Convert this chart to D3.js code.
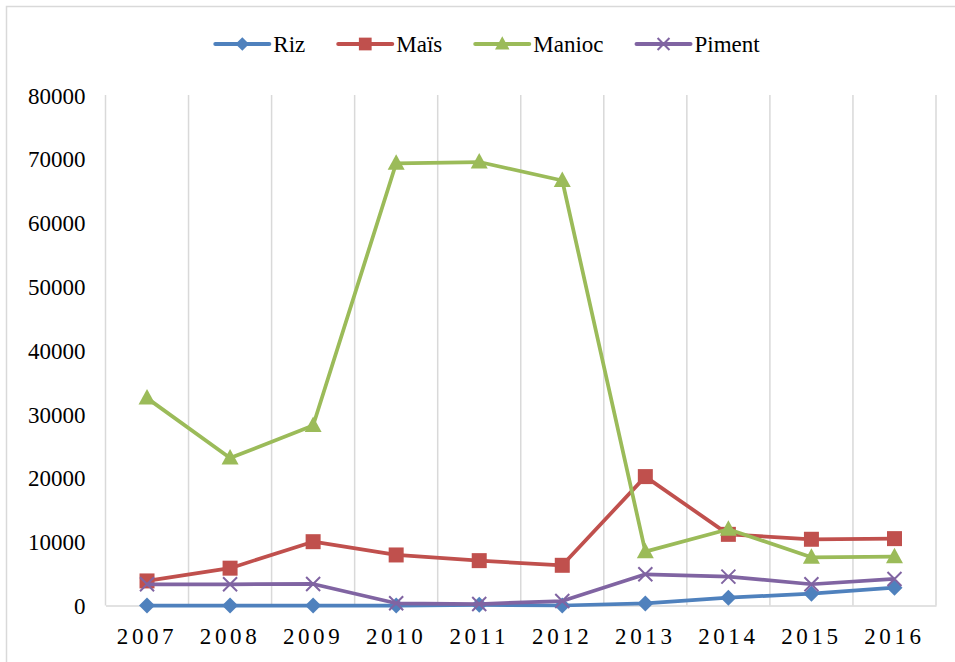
<!DOCTYPE html>
<html>
<head>
<meta charset="utf-8">
<script src="https://cdn.jsdelivr.net/npm/d3@7"></script>
<style>
  body { margin: 0; background: #fff; }
  svg { display: block; }
  svg text { font-family: "Times New Roman", "Liberation Serif", "DejaVu Serif", serif; }
</style>
</head>
<body>
<div id="chart"></div>
<script>
// data
const years = ["2007", "2008", "2009", "2010", "2011", "2012", "2013", "2014", "2015", "2016"];
const riz = [0, 0, 0, 0, 100, 0, 330, 1230, 1850, 2790];
const mais = [3850, 5850, 10000, 7920, 7030, 6300, 20200, 11150, 10380, 10480];
const manioc = [32500, 23100, 28200, 69300, 69500, 66600, 8440, 11950, 7560, 7650];
const piment = [3320, 3330, 3370, 350, 230, 700, 4890, 4520, 3330, 4160];
const yTicks = [0, 10000, 20000, 30000, 40000, 50000, 60000, 70000, 80000];

const series = [
    { name: "Riz", values: riz, color: "#4f81bd", marker: "diamond" },
    { name: "Maïs", values: mais, color: "#c0504d", marker: "square" },
    { name: "Manioc", values: manioc, color: "#9bbb59", marker: "triangle" },
    { name: "Piment", values: piment, color: "#8064a2", marker: "cross" }
];

const width = 955, height = 662;
const plot = { left: 105.5, right: 936, top: 95, bottom: 605.5 };
const fontSize = 23;
const serif = "'Times New Roman', 'Liberation Serif', 'DejaVu Serif', serif";

const svg = d3.select("#chart").append("svg")
    .attr("width", width)
    .attr("height", height);

svg.append("rect").attr("width", width).attr("height", height).attr("fill", "#fff");

// chart frame (runs off the picture at right and bottom)
svg.append("rect")
    .attr("x", 6.5).attr("y", 6.5)
    .attr("width", 1200).attr("height", 1200)
    .attr("fill", "none")
    .attr("stroke", "#d9d9d9")
    .attr("stroke-width", 1.5);

const x = d3.scaleBand()
    .domain(years)
    .range([plot.left, plot.right])
    .padding(0);

const y = d3.scaleLinear()
    .domain([0, 80000])
    .range([plot.bottom, plot.top]);

// vertical gridlines at category edges
const edges = years.map(d => x(d)).concat([plot.right]);
svg.append("g")
    .selectAll("line")
    .data(edges)
    .join("line")
    .attr("x1", d => d).attr("x2", d => d)
    .attr("y1", plot.top).attr("y2", plot.bottom)
    .attr("stroke", "#d9d9d9")
    .attr("stroke-width", 1.5);

// X axis
const xAxis = svg.append("g")
    .attr("transform", `translate(0, ${plot.bottom})`)
    .attr("font-family", serif)
    .call(d3.axisBottom(x).tickSize(0).tickPadding(22));
xAxis.attr("font-family", serif).attr("font-size", fontSize);
xAxis.select(".domain").attr("stroke", "#d9d9d9").attr("stroke-width", 1.5);
xAxis.selectAll("text")
    .attr("fill", "#000")
    .attr("dy", null)
    .attr("y", 38.5)
    .attr("font-family", serif)
    .style("font-size", `${fontSize}px`)
    .style("letter-spacing", "3.6px");

// Y axis
const yAxis = svg.append("g")
    .attr("transform", `translate(${plot.left}, 0)`)
    .call(d3.axisLeft(y).tickValues(yTicks).tickSize(0).tickPadding(20).tickFormat(d3.format("d")));
yAxis.attr("font-family", serif).attr("font-size", fontSize);
yAxis.select(".domain").remove();
yAxis.selectAll("text")
    .attr("fill", "#000")
    .attr("dy", "0.35em")
    .attr("font-family", serif)
    .style("font-size", `${fontSize}px`);

function markerPath(type, s) {
    const p = d3.path();
    if (type === "diamond") {
        p.moveTo(0, -8 * s); p.lineTo(8 * s, 0); p.lineTo(0, 8 * s); p.lineTo(-8 * s, 0); p.closePath();
    } else if (type === "square") {
        p.rect(-7.5 * s, -7.5 * s, 15 * s, 15 * s);
    } else if (type === "triangle") {
        p.moveTo(0, -9 * s); p.lineTo(8.5 * s, 6.5 * s); p.lineTo(-8.5 * s, 6.5 * s); p.closePath();
    } else {
        p.moveTo(-7 * s, -7 * s); p.lineTo(7 * s, 7 * s);
        p.moveTo(7 * s, -7 * s); p.lineTo(-7 * s, 7 * s);
    }
    return p.toString();
}

function drawMarker(g, type, color, s) {
    const m = g.append("path").attr("d", markerPath(type, s));
    if (type === "cross") {
        m.attr("fill", "none").attr("stroke", color).attr("stroke-width", 2);
    } else {
        m.attr("fill", color);
    }
}

const line = d3.line()
    .x((d, i) => x(years[i]) + x.bandwidth() / 2)
    .y(d => y(d));

// series
series.forEach(s => {
    const g = svg.append("g");
    g.append("path")
        .datum(s.values)
        .attr("d", line)
        .attr("fill", "none")
        .attr("stroke", s.color)
        .attr("stroke-width", 3.75)
        .attr("stroke-linejoin", "round");
    s.values.forEach((v, i) => {
        const mg = g.append("g")
            .attr("transform", `translate(${x(years[i]) + x.bandwidth() / 2}, ${y(v)})`);
        drawMarker(mg, s.marker, s.color, 1);
    });
});

// legend
const legendLine = 54, legendGap = 4, itemGap = 33, legendY = 44;
const legend = svg.append("g");
let cursor = 0;
series.forEach(s => {
    const item = legend.append("g").attr("transform", `translate(${cursor}, ${legendY})`);
    item.append("line")
        .attr("x1", 0).attr("x2", legendLine)
        .attr("stroke", s.color)
        .attr("stroke-width", 4)
        .attr("stroke-linecap", "round");
    const mg = item.append("g").attr("transform", `translate(${legendLine / 2}, 0)`);
    drawMarker(mg, s.marker, s.color, 0.85);
    const t = item.append("text")
        .attr("x", legendLine + legendGap)
        .attr("y", 8)
        .attr("font-family", serif)
        .style("font-size", `${fontSize}px`)
        .text(s.name);
    cursor += legendLine + legendGap + t.node().getComputedTextLength() + itemGap;
});
const legendWidth = cursor - itemGap;
legend.attr("transform", `translate(${487.5 - legendWidth / 2}, 0)`);
</script>
</body>
</html>
